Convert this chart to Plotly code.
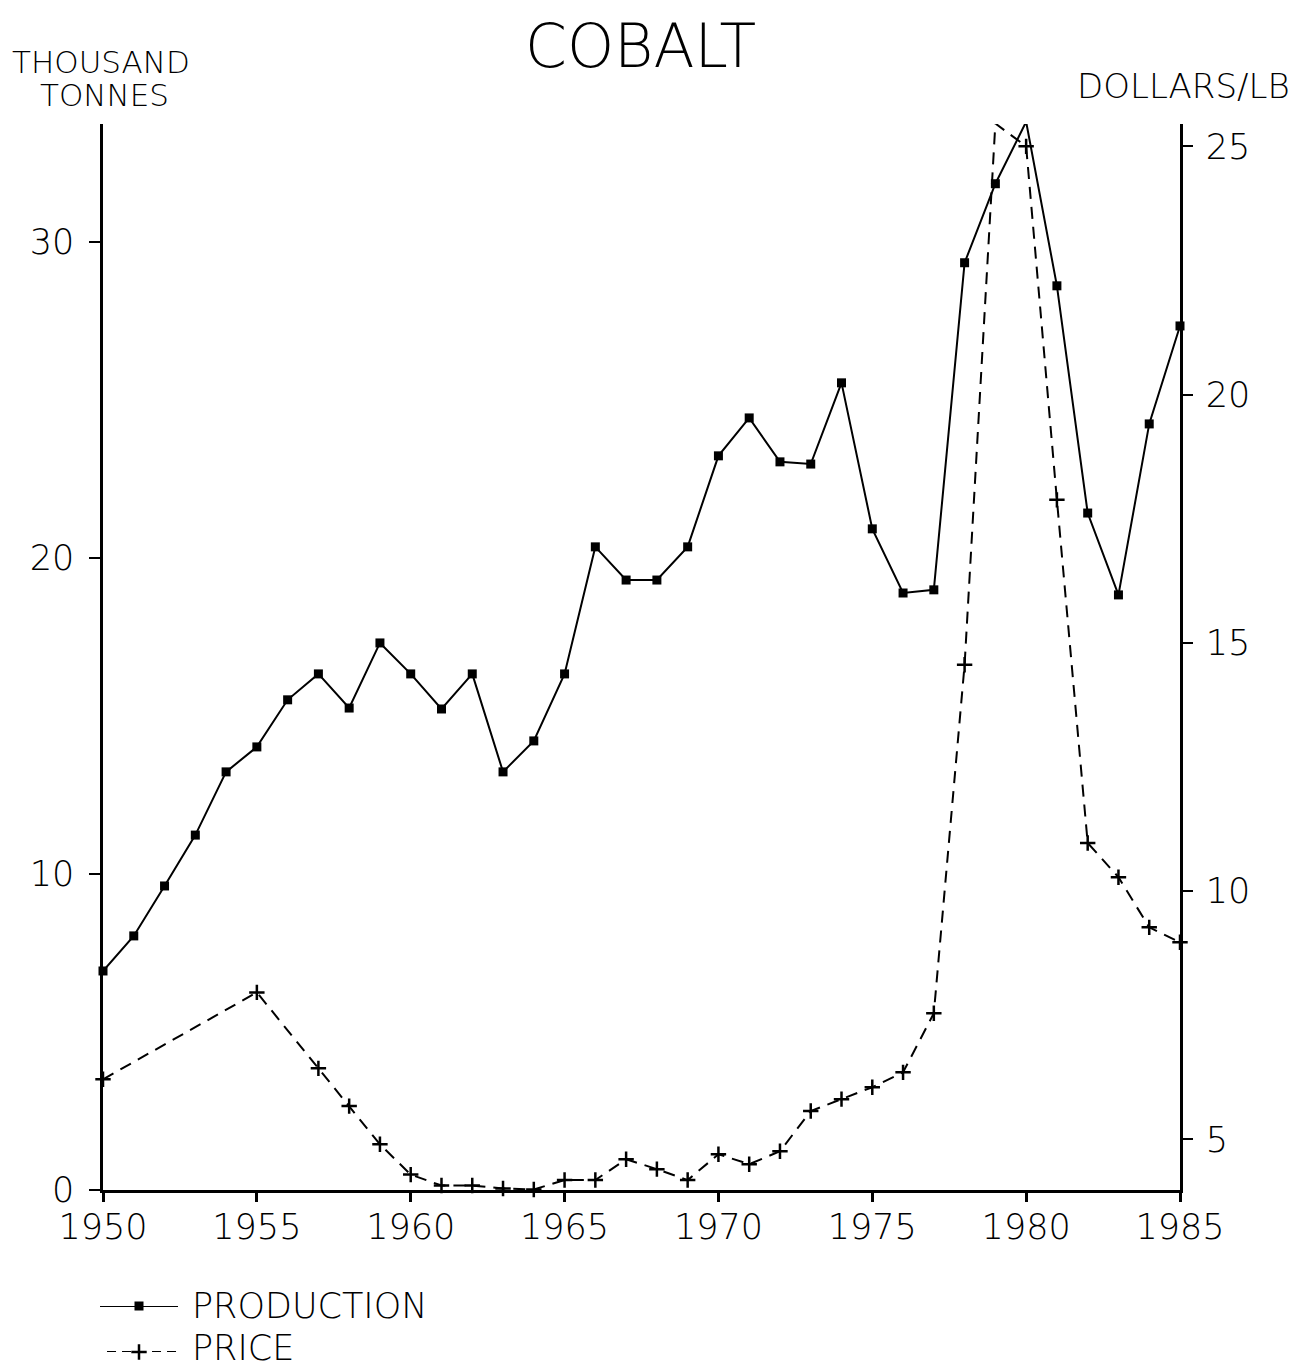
import plotly.graph_objects as go

years = list(range(1950, 1986))
production = [6.93, 8.04, 9.62, 11.23, 13.23, 14.02, 15.51, 16.33, 15.25, 17.31,
              16.33, 15.22, 16.33, 13.23, 14.21, 16.33, 20.35, 19.30, 19.30, 20.35,
              23.23, 24.43, 23.04, 22.97, 25.54, 20.92, 18.89, 18.99, 29.34, 31.84,
              33.80, 28.61, 21.42, 18.83, 24.24, 27.34]

price_years = [1950, 1955, 1957, 1958, 1959, 1960, 1961, 1962, 1963, 1964, 1965,
               1966, 1967, 1968, 1969, 1970, 1971, 1972, 1973, 1974, 1975, 1976,
               1977, 1978, 1979, 1980, 1981, 1982, 1983, 1984, 1985]
price = [6.21, 7.96, 6.43, 5.67, 4.90, 4.29, 4.07, 4.07, 4.01, 3.99, 4.18,
         4.18, 4.60, 4.40, 4.18, 4.70, 4.50, 4.76, 5.57, 5.81, 6.05, 6.35,
         7.54, 14.56, 25.46, 25.0, 17.88, 10.97, 10.28, 9.27, 8.97]

left_ticks = [0, 10, 20, 30]
right_ticks = [5, 10, 15, 20, 25]
x_ticks = [1950, 1955, 1960, 1965, 1970, 1975, 1980, 1985]

FONT = "DejaVu Sans"
WEIGHT = 200
OFF = 8  # page body margin
W, H = 1305 - OFF, 1369 - OFF


def px_x(p):
    return (p - OFF) / W


def px_y(p):
    return (H - (p - OFF)) / H


def tfont(size):
    return dict(family=FONT, size=size, color="black", weight=WEIGHT)


fig = go.Figure()

fig.add_trace(go.Scatter(
    x=years, y=production, mode="lines+markers", name="PRODUCTION",
    line=dict(color="black", width=2),
    marker=dict(symbol="square", size=9, color="black"),
    showlegend=False, cliponaxis=False))

fig.add_trace(go.Scatter(
    x=price_years, y=price, mode="lines+markers", name="PRICE", yaxis="y2",
    line=dict(color="black", width=2, dash="12px,8px"),
    marker=dict(symbol="cross-thin", size=11, color="black",
                line=dict(width=2.5, color="black")),
    showlegend=False, cliponaxis=False))

# legend samples drawn on a small auxiliary axis
fig.add_trace(go.Scatter(
    x=[0, 1], y=[1, 1], xaxis="x3", yaxis="y3", mode="lines",
    line=dict(color="black", width=2), cliponaxis=False,
    showlegend=False, hoverinfo="skip"))
fig.add_trace(go.Scatter(
    x=[0.5], y=[1], xaxis="x3", yaxis="y3", mode="markers",
    marker=dict(symbol="square", size=9, color="black"), cliponaxis=False,
    showlegend=False, hoverinfo="skip"))
fig.add_trace(go.Scatter(
    x=[0.09, 1], y=[0, 0], xaxis="x3", yaxis="y3", mode="lines",
    line=dict(color="black", width=2, dash="9px,6px"), cliponaxis=False,
    showlegend=False, hoverinfo="skip"))
fig.add_trace(go.Scatter(
    x=[0.5], y=[0], xaxis="x3", yaxis="y3", mode="markers",
    marker=dict(symbol="cross-thin", size=11, color="black",
                line=dict(width=2.5, color="black")), cliponaxis=False,
    showlegend=False, hoverinfo="skip"))

fig.update_layout(
    template="none",
    width=W, height=H,
    margin=dict(l=0, r=0, t=0, b=0, pad=0, autoexpand=False),
    paper_bgcolor="white", plot_bgcolor="white",
    font=tfont(35),
    showlegend=False,
    xaxis=dict(domain=[px_x(103), px_x(1180)], anchor="y", automargin=False,
               range=[1950, 1985], tickvals=x_ticks, ticktext=[str(v) for v in x_ticks],
               showgrid=False, zeroline=False, showline=True, linecolor="black",
               linewidth=2.5, ticks="outside", ticklen=9, tickwidth=2.5,
               tickcolor="black", ticklabelstandoff=-5, tickfont=tfont(35)),
    yaxis=dict(domain=[px_y(1190), px_y(124)], anchor="x", automargin=False,
               range=[0, 33.73], tickvals=left_ticks, showgrid=False, zeroline=False,
               showline=True, linecolor="black", linewidth=2.5, ticks="outside",
               ticklen=11, tickwidth=2, tickcolor="black", ticklabelstandoff=8,
               tickfont=tfont(35)),
    yaxis2=dict(range=[3.98, 25.45], tickvals=right_ticks, overlaying="y", side="right",
                anchor="x", automargin=False,
                showgrid=False, zeroline=False, showline=True, linecolor="black",
                linewidth=2.5, ticks="outside", ticklen=10, tickwidth=2,
                tickcolor="black", ticklabelstandoff=6, tickfont=tfont(35)),
    xaxis3=dict(domain=[px_x(100), px_x(178)], range=[0, 1], visible=False,
                anchor="y3", fixedrange=True, automargin=False),
    yaxis3=dict(domain=[px_y(1352), px_y(1306)], range=[0, 1], visible=False,
                anchor="x3", fixedrange=True, automargin=False),
)

annots = [
    dict(text="COBALT", x=640, y=46, size=60, xanchor="center"),
    dict(text="THOUSAND", x=101, y=62, size=31, xanchor="center"),
    dict(text="TONNES", x=104, y=95, size=31, xanchor="center"),
    dict(text="DOLLARS/LB", x=1292, y=86, size=34, xanchor="right"),
    dict(text="PRODUCTION", x=190, y=1306, size=35, xanchor="left"),
    dict(text="PRICE", x=190, y=1348, size=35, xanchor="left"),
]
for a in annots:
    fig.add_annotation(text=a["text"], x=px_x(a["x"]), y=px_y(a["y"]),
                       xref="paper", yref="paper",
                       xanchor=a["xanchor"], yanchor="middle", showarrow=False,
                       font=tfont(a["size"]))

fig.write_html("out.html")
